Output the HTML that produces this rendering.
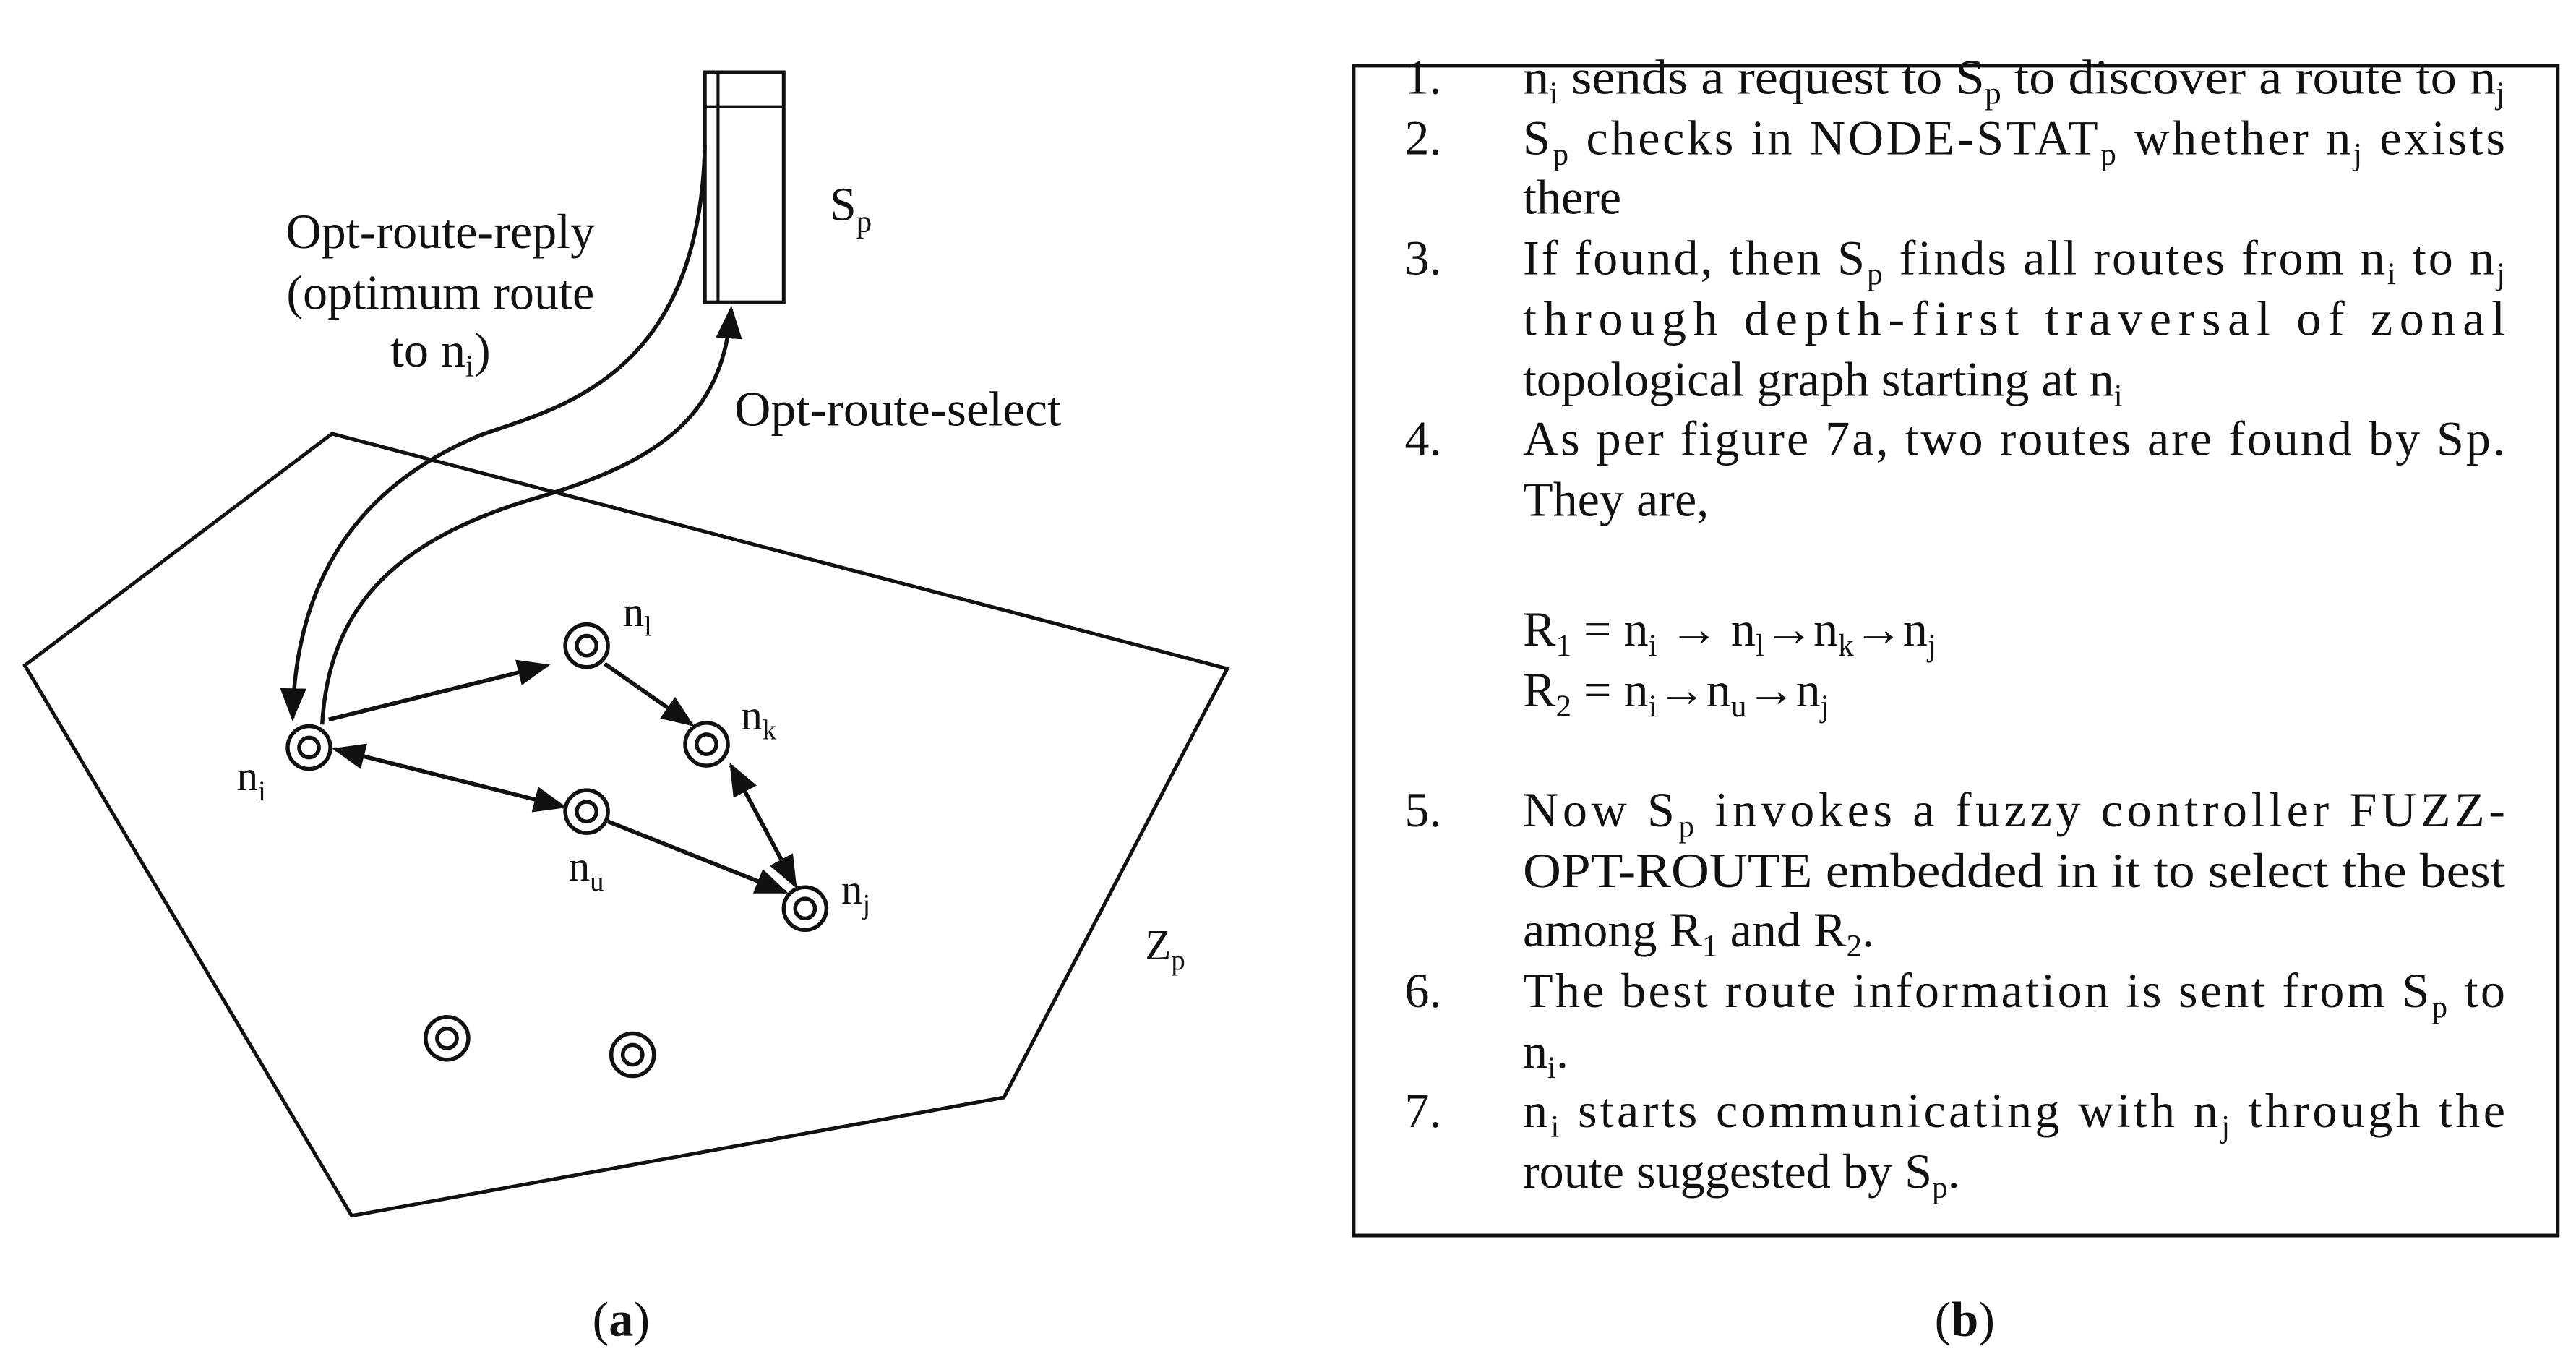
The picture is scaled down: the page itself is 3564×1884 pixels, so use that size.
<!DOCTYPE html>
<html><head><meta charset="utf-8"><style>
html,body{margin:0;padding:0;background:#fff;}
svg{display:block;}
text{font-family:"Liberation Serif",serif;fill:#111;}
</style></head><body>
<svg width="3564" height="1884" viewBox="0 0 1568 829" xmlns="http://www.w3.org/2000/svg">
<defs>
<marker id="ah2" viewBox="0 0 10 10" refX="9" refY="5" markerWidth="20" markerHeight="20" orient="auto-start-reverse" markerUnits="userSpaceOnUse">
<path d="M0,1 L10,5 L0,9 z" fill="#111"/></marker>
</defs>
<rect width="1568" height="829" fill="#fff"/>
<!-- Sp box -->
<rect x="429" y="44" width="48" height="140" fill="none" stroke="#111" stroke-width="2.2"/>
<line x1="437" y1="44" x2="437" y2="184" stroke="#111" stroke-width="1.8"/>
<line x1="429" y1="65" x2="477" y2="65" stroke="#111" stroke-width="1.8"/>
<text x="505" y="134" font-size="29">S<tspan font-size="19" dy="7">p</tspan></text>
<!-- zone polygon -->
<polygon points="202,264 747,407 611,668 214,740 15,405" fill="none" stroke="#111" stroke-width="2.2"/>
<!-- curves -->
<path d="M429,88 C 426,230 340,248 292,265 C 220,295 180,350 178,437" fill="none" stroke="#111" stroke-width="2.4" marker-end="url(#ah2)"/>
<path d="M196,441 C 200,370 240,330 320,305 C 400,282 440,255 445,188" fill="none" stroke="#111" stroke-width="2.4" marker-end="url(#ah2)"/>
<!-- edges -->
<g stroke="#111" stroke-width="2.5" fill="none">
<line x1="200" y1="438" x2="333" y2="405" marker-end="url(#ah2)"/>
<line x1="368" y1="404" x2="421" y2="441" marker-end="url(#ah2)"/>
<line x1="204" y1="456" x2="343" y2="491" marker-start="url(#ah2)" marker-end="url(#ah2)"/>
<line x1="370" y1="500" x2="478" y2="543" marker-end="url(#ah2)"/>
<line x1="445" y1="466" x2="484" y2="539" marker-start="url(#ah2)" marker-end="url(#ah2)"/>
</g>
<!-- nodes -->
<g fill="#fff" stroke="#111" stroke-width="2.4">
<g transform="translate(188,455)"><circle r="13"/><circle r="6"/></g>
<g transform="translate(357,393)"><circle r="13"/><circle r="6"/></g>
<g transform="translate(430,453)"><circle r="13"/><circle r="6"/></g>
<g transform="translate(357,494)"><circle r="13"/><circle r="6"/></g>
<g transform="translate(490,553)"><circle r="13"/><circle r="6"/></g>
<g transform="translate(272,632)"><circle r="13"/><circle r="6"/></g>
<g transform="translate(385,642)"><circle r="13"/><circle r="6"/></g>
</g>
<g font-size="26">
<text x="144" y="481">n<tspan font-size="17" dy="6">i</tspan></text>
<text x="379" y="381">n<tspan font-size="17" dy="6">l</tspan></text>
<text x="451" y="444">n<tspan font-size="17" dy="6">k</tspan></text>
<text x="346" y="536">n<tspan font-size="17" dy="6">u</tspan></text>
<text x="512" y="550">n<tspan font-size="17" dy="6">j</tspan></text>
<text x="697" y="584">Z<tspan font-size="17" dy="6">p</tspan></text>
</g>
<g font-size="30" text-anchor="middle">
<text x="268" y="151">Opt-route-reply</text>
<text x="268" y="188">(optimum route</text>
<text x="268" y="223">to n<tspan font-size="19" dy="6">i</tspan><tspan dy="-6">)</tspan></text>
</g>
<text x="447" y="259" font-size="30" textLength="199" lengthAdjust="spacingAndGlyphs">Opt-route-select</text>
<text x="378" y="813" font-size="30" text-anchor="middle">(<tspan font-weight="bold">a</tspan>)</text>
<text x="1196" y="813" font-size="30" text-anchor="middle">(<tspan font-weight="bold">b</tspan>)</text>
<!-- right box -->
<rect x="824" y="40" width="733" height="712" fill="none" stroke="#111" stroke-width="2.2"/>
<g font-size="30">
<text x="855" y="57">1.</text>
<text x="927" y="57" textLength="598" lengthAdjust="spacingAndGlyphs">n<tspan font-size="19" dy="6">i</tspan><tspan dy="-6"> sends a request to S</tspan><tspan font-size="19" dy="6">p</tspan><tspan dy="-6"> to discover a route to n</tspan><tspan font-size="19" dy="6">j</tspan></text>
<text x="855" y="94">2.</text>
<text x="927" y="94" textLength="598" lengthAdjust="spacing">S<tspan font-size="19" dy="6">p</tspan><tspan dy="-6"> checks in NODE-STAT</tspan><tspan font-size="19" dy="6">p</tspan><tspan dy="-6"> whether n</tspan><tspan font-size="19" dy="6">j</tspan><tspan dy="-6"> exists</tspan></text>
<text x="927" y="130">there</text>
<text x="855" y="167">3.</text>
<text x="927" y="167" textLength="598" lengthAdjust="spacing">If found, then S<tspan font-size="19" dy="6">p</tspan><tspan dy="-6"> finds all routes from n</tspan><tspan font-size="19" dy="6">i</tspan><tspan dy="-6"> to n</tspan><tspan font-size="19" dy="6">j</tspan></text>
<text x="927" y="204" textLength="598" lengthAdjust="spacing">through depth-first traversal of zonal</text>
<text x="927" y="241">topological graph starting at n<tspan font-size="19" dy="6">i</tspan></text>
<text x="855" y="277">4.</text>
<text x="927" y="277" textLength="598" lengthAdjust="spacing">As per figure 7a, two routes are found by Sp.</text>
<text x="927" y="314">They are,</text>
<text x="927" y="393">R<tspan font-size="19" dy="6">1</tspan><tspan dy="-6"> = n</tspan><tspan font-size="19" dy="6">i</tspan><tspan dy="-6"> → n</tspan><tspan font-size="19" dy="6">l</tspan><tspan dy="-6">→n</tspan><tspan font-size="19" dy="6">k</tspan><tspan dy="-6">→n</tspan><tspan font-size="19" dy="6">j</tspan></text>
<text x="927" y="430">R<tspan font-size="19" dy="6">2</tspan><tspan dy="-6"> = n</tspan><tspan font-size="19" dy="6">i</tspan><tspan dy="-6">→n</tspan><tspan font-size="19" dy="6">u</tspan><tspan dy="-6">→n</tspan><tspan font-size="19" dy="6">j</tspan></text>
<text x="855" y="503">5.</text>
<text x="927" y="503" textLength="598" lengthAdjust="spacing">Now S<tspan font-size="19" dy="6">p</tspan><tspan dy="-6"> invokes a fuzzy controller FUZZ-</tspan></text>
<text x="927" y="540" textLength="598" lengthAdjust="spacingAndGlyphs">OPT-ROUTE embedded in it to select the best</text>
<text x="927" y="576">among R<tspan font-size="19" dy="6">1</tspan><tspan dy="-6"> and R</tspan><tspan font-size="19" dy="6">2</tspan><tspan dy="-6">.</tspan></text>
<text x="855" y="613">6.</text>
<text x="927" y="613" textLength="598" lengthAdjust="spacing">The best route information is sent from S<tspan font-size="19" dy="6">p</tspan><tspan dy="-6"> to</tspan></text>
<text x="927" y="650">n<tspan font-size="19" dy="6">i</tspan><tspan dy="-6">.</tspan></text>
<text x="855" y="686">7.</text>
<text x="927" y="686" textLength="598" lengthAdjust="spacing">n<tspan font-size="19" dy="6">i</tspan><tspan dy="-6"> starts communicating with n</tspan><tspan font-size="19" dy="6">j</tspan><tspan dy="-6"> through the</tspan></text>
<text x="927" y="723">route suggested by S<tspan font-size="19" dy="6">p</tspan><tspan dy="-6">.</tspan></text>
</g>
</svg>
</body></html>
